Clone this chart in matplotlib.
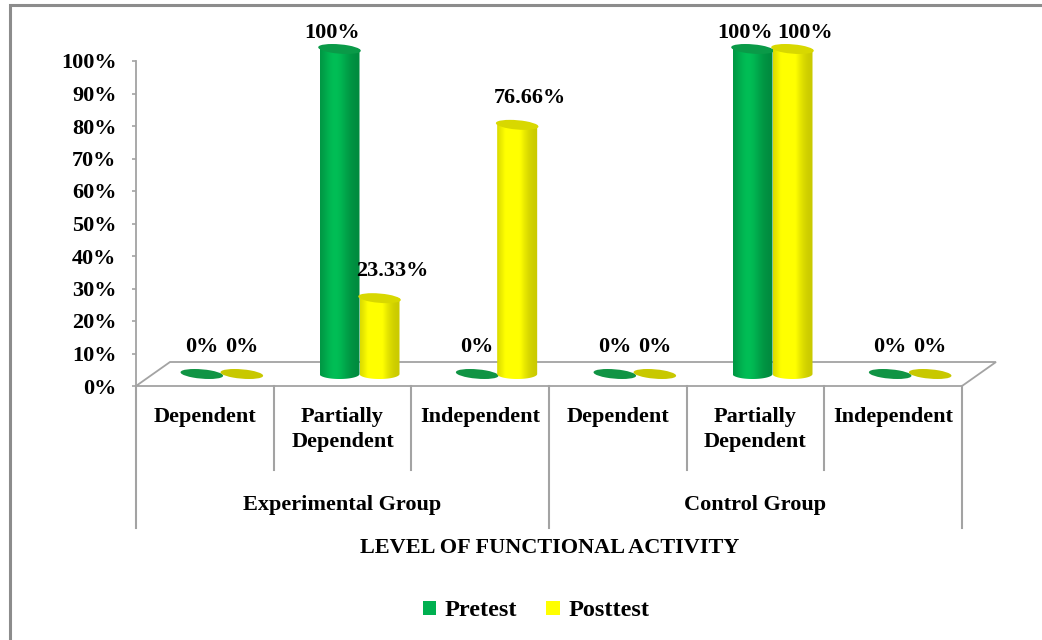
import numpy as np
import matplotlib
matplotlib.use('Agg')
import matplotlib.pyplot as plt
from matplotlib.patches import Polygon, Ellipse, Rectangle, Patch

# data
groups = ['Experimental Group', 'Control Group']
levels = ['Dependent', 'Partially\nDependent', 'Independent']
series = ['Pretest', 'Posttest']
pretest = [0, 100, 0, 0, 100, 0]
posttest = [0, 23.33, 76.66, 0, 100, 0]
value_labels_pre = ['0%', '100%', '0%', '0%', '100%', '0%']
value_labels_post = ['0%', '23.33%', '76.66%', '0%', '100%', '0%']

plt.rcParams['font.family'] = 'Liberation Serif'
plt.rcParams['font.weight'] = 'bold'

W, H = 1042, 640
fig = plt.figure(figsize=(W/100, H/100), dpi=100)

# axes: x = category index (0..6), y = percent; 3.25 px per percent, 137.67 px per category
px_cat = 826/6
px_pct = 3.25
xmin, xmax = 0, 6.3
ymin, ymax = -45, 112
left_px, bottom_px = 136, 640 - 386
ax = fig.add_axes([left_px/W, (bottom_px + ymin*px_pct)/H,
                   (xmax - xmin)*px_cat/W, (ymax - ymin)*px_pct/H])

grey = '#A3A3A3'
depth_x, depth_y = 34/px_cat, 24/px_pct   # floor depth
mid_x, mid_y = depth_x/2, depth_y/2       # bars sit half way back
bw = 40/px_cat
eh = 10/px_pct

# floor
floor = Polygon([(0, 0), (6, 0), (6 + depth_x, depth_y), (depth_x, depth_y)], closed=True,
                facecolor='white', edgecolor=grey, lw=1.3, zorder=1)
ax.add_patch(floor)


def cylinder(xc, v, base, top, z):
    x0, x1 = xc - bw/2, xc + bw/2
    y0 = mid_y
    y1 = y0 + v
    if v > 0:
        t = np.linspace(np.pi, 2*np.pi, 60)
        arc = np.column_stack([xc + bw/2*np.cos(t), y0 + eh/2*np.sin(t)])
        verts = np.vstack([[x0, y1], arc, [x1, y1]])
        clip = Polygon(verts, closed=True, facecolor='none', edgecolor='none')
        ax.add_patch(clip)
        s = np.linspace(0, 1, 80)
        shade = 0.78 + 0.3*np.exp(-((s - 0.38)/0.33)**2)
        img = np.clip(np.array(base)[None, :]*shade[:, None], 0, 1)[None, :, :]
        im = ax.imshow(img, extent=[x0, x1, y0 - eh/2, y1], aspect='auto',
                       interpolation='bilinear', zorder=z)
        im.set_clip_path(clip)
    ax.add_patch(Ellipse((xc, y1), bw, eh, angle=2, facecolor=top, edgecolor='none', zorder=z + 0.1))


green = (0.0, 0.69, 0.31)
yellow = (1.0, 1.0, 0.0)
for i in range(6):
    pc = i + 0.5 + mid_x
    gx, yx = pc - bw/2, pc + bw/2
    cylinder(gx, pretest[i], green, '#0A9A48' if pretest[i] > 0 else '#109444', 3)
    cylinder(yx, posttest[i], yellow, '#D8D800' if posttest[i] > 0 else '#C8C800', 4)
    # labels of tall bars are nudged apart so neighbours don't collide
    for xc, v, lab, nudge in [(gx, pretest[i], value_labels_pre[i], -7),
                              (yx, posttest[i], value_labels_post[i], 13)]:
        ly = min(mid_y + v + 8.3, 108.5)
        lx = xc + (nudge/px_cat if v > 0 else 0)
        ax.text(lx, ly, lab, ha='center', va='center', fontsize=16, fontweight='bold', zorder=6)

# y axis
ax.set_xlim(xmin, xmax)
ax.set_ylim(ymin, ymax)
for sp in ['top', 'right', 'bottom']:
    ax.spines[sp].set_visible(False)
ax.spines['left'].set_bounds(0, 100)
ax.spines['left'].set_color(grey)
ax.spines['left'].set_linewidth(1.3)
ticks = list(range(0, 101, 10))
ax.set_yticks(ticks)
ax.set_yticklabels([f'{t}%' for t in ticks], fontsize=16, fontweight='bold')
ax.tick_params(axis='y', length=3, color=grey, pad=11, width=1.2)
ax.set_xticks([])
ax.patch.set_alpha(0)

# category / group labels and dividers
for i in range(6):
    ax.text(i + 0.5, -6.4, levels[i % 3], ha='center', va='top', fontsize=16,
            fontweight='bold', linespacing=1.35)
for x in [1, 2, 4, 5]:
    ax.plot([x, x], [0, -25.8], color=grey, lw=1.5, clip_on=False)
for x in [0, 3, 6]:
    ax.plot([x, x], [0, -43.7], color=grey, lw=1.5, clip_on=False)
for g, name in enumerate(groups):
    ax.text(1.5 + 3*g, -36.6, name, ha='center', va='center', fontsize=16, fontweight='bold')

fig.text(550/W, 1 - 548/H, 'LEVEL OF FUNCTIONAL ACTIVITY', ha='center', va='center',
         fontsize=16, fontweight='bold')

handles = [Patch(facecolor='#00B050', label=series[0]), Patch(facecolor='#FFFF00', label=series[1])]
fig.legend(handles=handles, loc='center', bbox_to_anchor=(536/W, 1 - 611/H), ncol=2,
           frameon=False, prop={'size': 17.5, 'weight': 'bold'}, handlelength=0.55,
           handleheight=0.55, handletextpad=0.35, columnspacing=1.2)

# chart border
fig.add_artist(Rectangle((10/W, -0.05), 1.2, (640 - 5)/H + 0.05, transform=fig.transFigure,
                         fill=False, edgecolor='#8C8C8C', lw=2.2))

fig.savefig('out.png', dpi=100)
